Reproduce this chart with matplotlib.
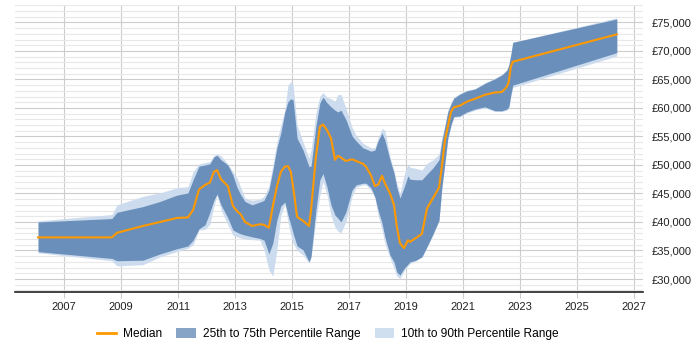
import numpy as np
import matplotlib
matplotlib.use('Agg')
import matplotlib.pyplot as plt
from matplotlib.ticker import MultipleLocator, FuncFormatter
from matplotlib.patches import Patch
from matplotlib.lines import Line2D

plt.rcParams['font.family'] = ['Liberation Sans', 'DejaVu Sans']
plt.rcParams['font.size'] = 8

#%% data (decimal years, GBP)
years = [2006.09, 2008.68, 2008.86, 2009.77, 2010.37, 2010.96, 2011.35, 2011.53, 2011.74, 2011.95,
         2012.12, 2012.26, 2012.37, 2012.51, 2012.75, 2012.93, 2013.07, 2013.21, 2013.35, 2013.60,
         2013.88, 2014.02, 2014.19, 2014.33, 2014.47, 2014.61, 2014.75, 2014.86, 2014.96, 2015.04,
         2015.18, 2015.39, 2015.60, 2015.67, 2015.84, 2015.98, 2016.09, 2016.23, 2016.37, 2016.51,
         2016.61, 2016.72, 2016.89, 2017.11, 2017.25, 2017.49, 2017.60, 2017.77, 2017.91, 2018.02,
         2018.16, 2018.26, 2018.44, 2018.58, 2018.68, 2018.79, 2018.93, 2019.07, 2019.14, 2019.35,
         2019.56, 2019.74, 2019.95, 2020.16, 2020.26, 2020.37, 2020.47, 2020.58, 2020.68, 2020.89,
         2021.14, 2021.42, 2021.77, 2022.12, 2022.37, 2022.54, 2022.61, 2022.68, 2022.75, 2026.40]

median = [37300, 37300, 38100, 39300, 40000, 40700, 40800, 42100, 45700, 46500,
          46900, 48800, 49100, 47500, 46300, 42800, 41900, 41300, 40000, 39300,
          39600, 39500, 39000, 42800, 46200, 48800, 49700, 49800, 48800, 46200,
          40900, 40200, 39300, 42100, 51400, 56700, 57100, 56100, 54700, 50900,
          51600, 51300, 50700, 51000, 50700, 50200, 49700, 48200, 46300, 46500,
          48100, 46800, 45000, 43000, 39200, 36300, 35400, 36800, 36500, 37200,
          37900, 42400, 44200, 46000, 49700, 54400, 56700, 59300, 60100, 60400,
          61100, 61600, 62300, 62700, 62800, 63700, 64600, 67200, 68100, 72900]

p75 = [40000, 40600, 41700, 42700, 43600, 44700, 45100, 47400, 49800, 50000,
       50200, 51400, 51700, 50900, 50000, 48200, 46100, 44700, 43600, 43000,
       43500, 43800, 45600, 49100, 53000, 55600, 59300, 61100, 61600, 61400,
       54700, 52600, 49700, 49800, 56800, 60900, 61900, 60900, 60200, 59600,
       59300, 59600, 58000, 55100, 54200, 53000, 52800, 52400, 52600, 54200,
       55600, 54400, 50900, 48600, 46100, 44200, 46000, 48100, 47500, 47400,
       47400, 48400, 49500, 50900, 54200, 56800, 59300, 60700, 61700, 62400,
       63000, 63300, 64300, 65100, 65800, 66600, 67500, 69300, 71500, 75600]

p25 = [34800, 33600, 33200, 33300, 34400, 35300, 35800, 36800, 38800, 39500,
       41700, 43800, 44900, 43000, 40700, 38600, 38200, 37900, 37700, 37400,
       37100, 36800, 34400, 36300, 40300, 42800, 43500, 41200, 39500, 38000,
       35800, 35100, 33000, 34000, 42100, 47400, 48500, 46100, 43000, 41200,
       40700, 40000, 41700, 45600, 46500, 46800, 46800, 46000, 44400, 42100,
       39800, 37400, 34200, 33000, 31200, 30700, 31800, 32600, 33000, 33300,
       33900, 35700, 37900, 40300, 46000, 50500, 54700, 57000, 58500, 58600,
       59300, 59800, 60200, 59500, 59500, 59800, 60200, 62300, 64000, 69700]

p90 = [40200, 41300, 43000, 44500, 45100, 46000, 46200, 48800, 50200, 50400,
       50600, 51700, 51900, 51600, 50200, 48800, 47700, 46000, 44200, 43800,
       44000, 44500, 46300, 50000, 54000, 57000, 59600, 64000, 64600, 64000,
       57000, 54000, 51200, 52600, 59100, 62100, 62700, 61900, 61600, 61200,
       62300, 62400, 60000, 56600, 55200, 53800, 53500, 53000, 53000, 54700,
       56400, 56100, 51400, 49100, 46800, 44900, 48200, 50200, 49600, 49400,
       49100, 50300, 50900, 51900, 54700, 57200, 59600, 60900, 61900, 62500,
       63100, 63400, 64400, 65200, 65900, 66700, 67600, 69400, 71500, 75800]

p10 = [34600, 33200, 32300, 32500, 33900, 34800, 35400, 36000, 38600, 38700,
       39600, 42800, 44700, 42100, 39500, 37700, 37400, 37200, 37000, 36900,
       36800, 35100, 31600, 30500, 35100, 41200, 43100, 40000, 37700, 36300,
       35000, 34200, 32800, 33700, 40300, 44700, 47100, 44700, 41200, 39100,
       38400, 38100, 40000, 44500, 46100, 46500, 46500, 45600, 44200, 41200,
       38600, 36300, 33700, 31900, 30500, 30100, 31400, 32300, 32700, 33200,
       33800, 35500, 37700, 40200, 45800, 50300, 54500, 56800, 58300, 58400,
       59100, 59600, 60000, 59400, 59400, 59600, 59900, 61900, 63600, 69100]

xticks = [2007, 2009, 2011, 2013, 2015, 2017, 2019, 2021, 2023, 2025, 2027]

#%% plot
fig = plt.figure(figsize=(7, 3.5), dpi=100)
ax = fig.add_axes([0.0214, 0.1657, 0.8972, 0.82])

c_dark = '#6b8fbb'
c_light = '#ccdcee'
c_med = '#ff9900'

ax.fill_between(years, p10, p90, color=c_light, linewidth=0, zorder=2)
ax.fill_between(years, p25, p75, color=c_dark, linewidth=0, zorder=3)
ax.plot(years, median, color=c_med, linewidth=1.5, zorder=4)

ax.set_xlim(2005.28, 2027.32)
ax.set_ylim(27720, 78050)
ax.set_xticks(xticks)
ax.yaxis.set_major_locator(MultipleLocator(5000))
ax.yaxis.set_minor_locator(MultipleLocator(1000))
ax.yaxis.set_major_formatter(FuncFormatter(lambda v, p: '£{:,.0f}'.format(v)))
ax.yaxis.tick_right()
ax.tick_params(axis='y', which='both', length=0, pad=6, labelsize=8, colors='#222222')
ax.tick_params(axis='x', length=4, color='#cccccc', labelsize=8, colors='#222222', pad=3)

ax.grid(True, which='major', axis='both', color='#cccccc', linewidth=0.8, zorder=0)
ax.grid(True, which='minor', axis='y', color='#e8e8e8', linewidth=0.8, zorder=0)
ax.set_axisbelow(True)
for s in ['top', 'right', 'left']:
    ax.spines[s].set_visible(False)
ax.spines['bottom'].set_color('#222222')
ax.spines['bottom'].set_linewidth(1.2)

handles = [Line2D([0], [0], color=c_med, linewidth=2),
           Patch(facecolor='#87a3c6', edgecolor='none'),
           Patch(facecolor='#d0dfef', edgecolor='none')]
labels = ['Median', '25th to 75th Percentile Range', '10th to 90th Percentile Range']
fig.legend(handles, labels, loc='center', bbox_to_anchor=(0.468, 0.045), ncol=3,
           frameon=False, fontsize=8.6, handlelength=1.6, handleheight=0.9, columnspacing=1.2,
           handletextpad=0.6)

plt.savefig('out.png', dpi=100)
